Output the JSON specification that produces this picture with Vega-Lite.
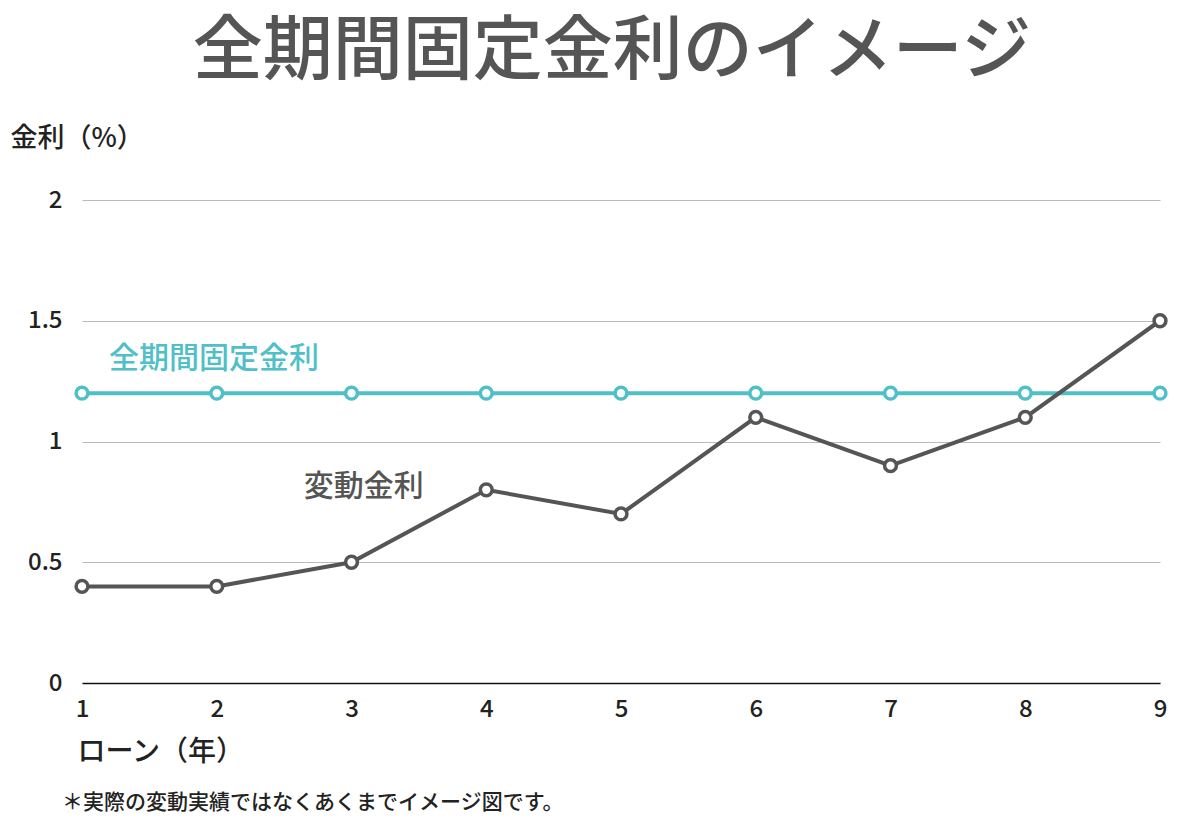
{
  "$schema": "https://vega.github.io/schema/vega-lite/v6.json",
  "autosize": "none",
  "width": 1078,
  "height": 483,
  "padding": {"left": 82, "top": 200, "right": 40, "bottom": 142},
  "background": "white",
  "config": {
    "font": "Noto Sans CJK JP",
    "view": {"stroke": null}
  },
  "title": {
    "text": "全期間固定金利のイメージ",
    "fontSize": 70,
    "lineHeight": 72,
    "fontWeight": 500,
    "color": "#555555",
    "anchor": "middle",
    "frame": "group",
    "dx": -9,
    "offset": 35
  },
  "datasets": {
    "rates": [
      {"year": 1, "type": "固定", "rate": 1.2},
      {"year": 2, "type": "固定", "rate": 1.2},
      {"year": 3, "type": "固定", "rate": 1.2},
      {"year": 4, "type": "固定", "rate": 1.2},
      {"year": 5, "type": "固定", "rate": 1.2},
      {"year": 6, "type": "固定", "rate": 1.2},
      {"year": 7, "type": "固定", "rate": 1.2},
      {"year": 8, "type": "固定", "rate": 1.2},
      {"year": 9, "type": "固定", "rate": 1.2},
      {"year": 1, "type": "変動", "rate": 0.4},
      {"year": 2, "type": "変動", "rate": 0.4},
      {"year": 3, "type": "変動", "rate": 0.5},
      {"year": 4, "type": "変動", "rate": 0.8},
      {"year": 5, "type": "変動", "rate": 0.7},
      {"year": 6, "type": "変動", "rate": 1.1},
      {"year": 7, "type": "変動", "rate": 0.9},
      {"year": 8, "type": "変動", "rate": 1.1},
      {"year": 9, "type": "変動", "rate": 1.5}
    ],
    "labels": [
      {"type": "固定", "x": 1.98, "y": 1.34, "text": "全期間固定金利"},
      {"type": "変動", "x": 3.09, "y": 0.81, "text": "変動金利"}
    ],
    "notes": [
      {"x": 0.852, "y": -0.497, "text": "＊実際の変動実績ではなくあくまでイメージ図です。"}
    ]
  },
  "layer": [
    {
      "data": {"name": "rates"},
      "mark": {"type": "line", "strokeWidth": 4, "point": {"filled": false, "fill": "white", "size": 140, "strokeWidth": 3.5, "opacity": 1}},
      "encoding": {
        "x": {
          "field": "year", "type": "quantitative",
          "scale": {"domain": [1, 9], "nice": false, "zero": false},
          "axis": {
            "values": [1, 2, 3, 4, 5, 6, 7, 8, 9],
            "format": "d",
            "grid": false,
            "ticks": false,
            "domainColor": "#111111",
            "domainWidth": 1.5,
            "labelFontSize": 24,
            "labelFontWeight": 500,
            "labelColor": "#222222",
            "labelPadding": 14,
            "labelFlush": false,
            "title": "ローン（年）",
            "titleFontSize": 28,
            "titleFontWeight": 500,
            "titleColor": "#222222",
            "titleAnchor": "start",
            "titleAlign": "left",
            "titleBaseline": "middle",
            "titleX": -5,
            "titleY": 69
          }
        },
        "y": {
          "field": "rate", "type": "quantitative",
          "scale": {"domain": [0, 2], "nice": false},
          "axis": {
            "values": [0, 0.5, 1, 1.5, 2],
            "format": "~g",
            "domain": false,
            "ticks": false,
            "gridColor": "#bbbbbb",
            "gridWidth": 1,
            "labelFontSize": 24,
            "labelFontWeight": 500,
            "labelColor": "#222222",
            "labelPadding": 20,
            "title": "金利（%）",
            "titleAngle": 0,
            "titleFontSize": 27,
            "titleFontWeight": 500,
            "titleColor": "#222222",
            "titleAlign": "left",
            "titleBaseline": "middle",
            "titleX": -72,
            "titleY": -62
          }
        },
        "color": {
          "field": "type", "type": "nominal",
          "scale": {"domain": ["固定", "変動"], "range": ["#4fbfc8", "#555555"]},
          "legend": null
        },
        "order": {"field": "year"}
      }
    },
    {
      "data": {"name": "labels"},
      "mark": {"type": "text", "fontSize": 30, "fontWeight": 500, "align": "center", "baseline": "middle"},
      "encoding": {
        "x": {"field": "x", "type": "quantitative"},
        "y": {"field": "y", "type": "quantitative"},
        "text": {"field": "text"},
        "color": {"field": "type", "type": "nominal", "legend": null}
      }
    },
    {
      "data": {"name": "notes"},
      "mark": {"type": "text", "fontSize": 21, "fontWeight": 500, "align": "left", "baseline": "middle", "color": "#222222", "clip": false},
      "encoding": {
        "x": {"field": "x", "type": "quantitative"},
        "y": {"field": "y", "type": "quantitative"},
        "text": {"field": "text"}
      }
    }
  ]
}
